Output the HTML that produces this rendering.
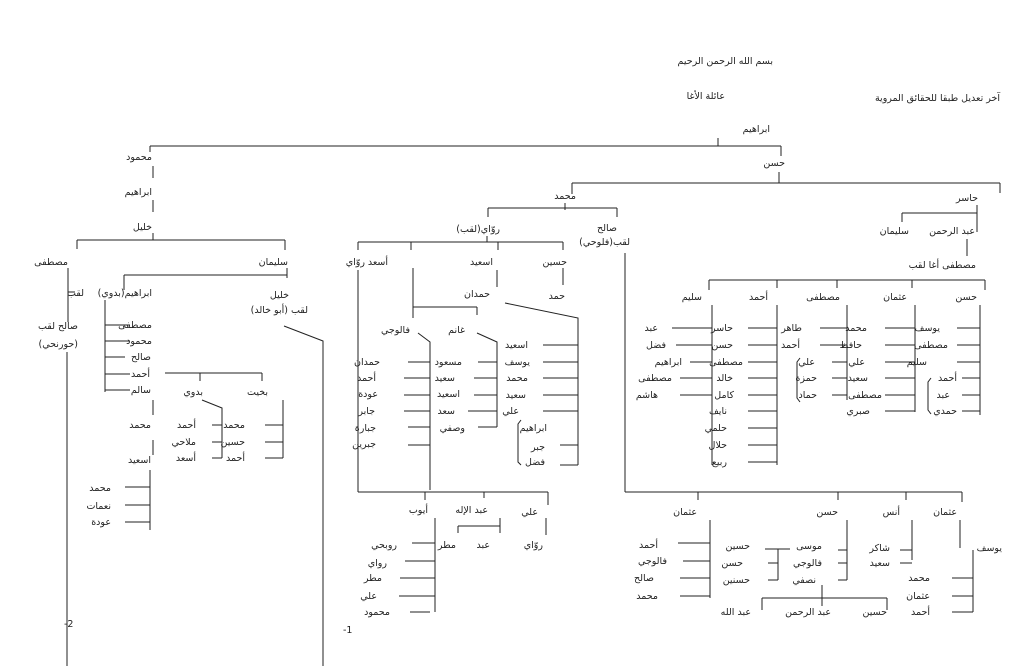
<!DOCTYPE html>
<html><head><meta charset="utf-8"><style>
html,body{margin:0;padding:0;background:#fff}
svg{display:block}
text{font-family:"DejaVu Sans","Noto Sans CJK SC",sans-serif;font-size:9.5px;fill:#222;text-anchor:end}
path{stroke:#222;stroke-width:1;fill:none}
</style></head><body>
<svg width="1036" height="666" viewBox="0 0 1036 666" xmlns="http://www.w3.org/2000/svg">
<!-- headings -->
<text x="773" y="64">بسم الله الرحمن الرحيم</text>
<text x="1000" y="101">آخر تعديل طبقا للحقائق المروية</text>
<text x="725" y="99">عائلة الأغا</text>
<text x="770" y="132">ابراهيم</text>

<path d="M150 146H781 M718 146V138 M781 146V156 M150 146V152"/>
<text x="785" y="166">حسن</text>
<path d="M779 172V183 M572 183H1000 M572 183V194 M1000 183V193"/>
<text x="576" y="199">محمد</text>
<text x="978" y="201">حاسر</text>
<path d="M977 205V232 M902 213H977 M902 213V222"/>
<text x="975" y="234">عبد الرحمن</text>
<text x="909" y="234">سليمان</text>
<path d="M967 239V256"/>
<text x="976" y="268">مصطفى أغا لقب</text>
<path d="M709 280H985 M709 280V290 M777 280V288 M837 280V288 M912 280V288 M985 280V290"/>
<text x="702" y="300">سليم</text>
<text x="768" y="300">أحمد</text>
<text x="840" y="300">مصطفى</text>
<text x="907" y="300">عثمان</text>
<text x="977" y="300">حسن</text>
<path d="M712 305V465 M777 305V465 M847 305V400 M915 305V412 M980 305V415"/>
<path d="M672 328H712 M676 345H712 M690 362H712 M680 378H712 M680 395H712"/>
<path d="M748 328H777 M748 345H777 M748 362H777 M748 378H777 M748 395H777 M748 411H777 M748 428H777 M748 445H777 M748 462H777"/>
<path d="M820 328H847 M820 345H847 M832 362H847 M832 378H847 M832 395H847"/>
<path d="M885 328H915 M885 345H915 M885 362H915 M885 378H915 M885 395H915 M885 411H915"/>
<path d="M957 328H980 M957 345H980 M957 362H980 M962 378H980 M962 395H980 M962 411H980"/>
<path d="M800 358 L797 362 V398 L800 402 M931 378 L928 382 V410 L931 414"/>
<text x="658" y="331">عبد</text><text x="666" y="348">فضل</text><text x="682" y="365">ابراهيم</text><text x="672" y="381">مصطفى</text><text x="658" y="398">هاشم</text>
<text x="733" y="331">حاسر</text><text x="733" y="348">حسن</text><text x="743" y="365">مصطفى</text><text x="733" y="381">خالد</text><text x="734" y="398">كامل</text><text x="727" y="414">نايف</text><text x="727" y="431">حلمي</text><text x="727" y="448">حلال</text><text x="727" y="465">ربيع</text>
<text x="802" y="331">طاهر</text><text x="800" y="348">أحمد</text>
<text x="815" y="365">علي</text><text x="817" y="381">حمزة</text><text x="817" y="398">حماد</text>
<text x="867" y="331">محمد</text><text x="862" y="348">حافظ</text><text x="865" y="365">علي</text><text x="868" y="381">سعيد</text><text x="882" y="398">مصطفى</text><text x="870" y="414">صبري</text>
<text x="940" y="331">يوسف</text><text x="948" y="348">مصطفى</text><text x="927" y="365">سليم</text><text x="957" y="381">أحمد</text><text x="950" y="398">عبد</text><text x="957" y="414">حمدي</text>

<!-- left branch -->
<text x="152" y="160">محمود</text>
<path d="M153 166V178 M153 200V212"/>
<text x="152" y="195">ابراهيم</text>
<text x="152" y="230">خليل</text>
<path d="M77 240H285 M77 240V249 M153 240V233 M285 240V250"/>
<text x="68" y="265">مصطفى</text>
<text x="288" y="265">سليمان</text>
<path d="M68 268V322 M68 292H75"/>
<text x="84" y="296">لقب</text>
<text x="78" y="329">صالح لقب</text>
<text x="78" y="347">(حورنحي)</text>
<path d="M67 352V666"/>
<text x="64" y="627" style="text-anchor:start">-2</text>
<path d="M287 268V278 M124 275H287 M124 275V290"/>
<text x="152" y="296">ابراهيم(بدوي)</text>
<text x="289" y="298">خليل</text>
<text x="308" y="313">لقب (أبو خالد)</text>
<path d="M284 326L323 341V666"/>
<path d="M105 300V392 M105 325H130 M105 341H130 M105 357H125 M105 374H130 M105 390H130"/>
<text x="152" y="328">مصطفى</text><text x="152" y="344">محمود</text><text x="151" y="360">صالح</text><text x="150" y="377">أحمد</text><text x="151" y="393">سالم</text>
<path d="M153 400V415 M153 440V455 M150 470V530 M125 487H150 M125 505H150 M125 522H150"/>
<text x="151" y="428">محمد</text><text x="151" y="463">اسعيد</text>
<text x="111" y="491">محمد</text><text x="111" y="509">نعمات</text><text x="111" y="525">عودة</text>
<path d="M165 373H262 M200 373V381 M262 373V381"/>
<text x="203" y="395">بدوي</text><text x="268" y="395">بخيت</text>
<path d="M202 400L222 408V458 M212 425H222 M212 442H222 M212 458H222 M283 400V458 M265 425H283 M265 442H283 M265 458H283"/>
<text x="196" y="428">أحمد</text><text x="196" y="445">ملاحي</text><text x="196" y="461">أسعد</text>
<text x="245" y="428">محمد</text><text x="245" y="445">حسين</text><text x="245" y="461">أحمد</text>

<!-- middle -->
<path d="M565 203V210 M488 208H617 M488 208V217 M617 208V217"/>
<text x="500" y="232">روّاي(لقب)</text>
<text x="617" y="231">صالح</text>
<text x="630" y="245">لقب(فلوحي)</text>
<path d="M625 253V492 M625 492H962 M698 492V500 M838 492V500 M906 492V500 M962 492V502"/>
<path d="M487 236V242 M358 242H563 M358 242V250 M411 242V250 M498 242V250 M563 242V250"/>
<text x="365" y="265">روّاي</text><text x="388" y="265">أسعد</text><text x="493" y="265">اسعيد</text><text x="567" y="265">حسين</text>
<path d="M497 270V287 M563 268V285"/>
<text x="490" y="297">حمدان</text><text x="565" y="299">حمد</text>
<path d="M413 268V318 M413 307H477 M477 307V315"/>
<text x="410" y="333">فالوجي</text><text x="465" y="333">غانم</text>
<path d="M418 333L430 342V490 M408 362H430 M404 378H430 M404 395H430 M404 411H430 M408 427H430 M408 445H430"/>
<text x="380" y="365">حمدان</text><text x="376" y="381">أحمد</text><text x="378" y="397">عودة</text><text x="375" y="414">جابر</text><text x="376" y="431">جبارة</text><text x="376" y="447">جبرين</text>
<text x="462" y="365">مسعود</text><text x="455" y="381">سعيد</text><text x="460" y="397">اسعيد</text><text x="455" y="414">سعد</text><text x="465" y="431">وصفي</text>
<path d="M477 333L497 342V427 M478 362H497 M474 378H497 M474 395H497 M468 411H497 M478 427H497"/>
<text x="528" y="348">اسعيد</text><text x="530" y="365">يوسف</text><text x="528" y="381">محمد</text><text x="526" y="398">سعيد</text><text x="519" y="414">علي</text>
<path d="M505 303L578 318V465 M543 345H578 M543 362H578 M543 378H578 M543 395H578 M543 411H578 M560 445H578 M560 465H578"/>
<path d="M521 420L518 424V462L521 465"/>
<text x="547" y="431">ابراهيم</text><text x="545" y="450">جبر</text><text x="545" y="465">فضل</text>
<path d="M358 270V492 M358 492H548 M425 492V500 M484 492V498 M548 492V505"/>
<text x="428" y="513">أيوب</text><text x="488" y="513">عبد الإله</text><text x="538" y="515">علي</text>
<path d="M546 518V535 M458 526H500 M458 526V533 M500 518V533"/>
<text x="543" y="548">روّاي</text><text x="490" y="548">عبد</text><text x="456" y="548">مطر</text>
<path d="M435 518V612 M412 543H435 M405 561H435 M400 578H435 M399 596H435 M410 612H430"/>
<text x="397" y="548">روبحي</text><text x="387" y="566">رواي</text><text x="382" y="581">مطر</text><text x="377" y="599">علي</text><text x="390" y="615">محمود</text>
<text x="343" y="633" style="text-anchor:start">-1</text>

<!-- bottom right -->
<text x="697" y="515">عثمان</text><text x="838" y="515">حسن</text><text x="900" y="515">أنس</text><text x="957" y="515">عثمان</text>
<path d="M710 520V598 M678 543H710 M683 561H710 M680 578H710 M680 596H710"/>
<text x="658" y="548">أحمد</text><text x="667" y="564">فالوجي</text><text x="654" y="581">صالح</text><text x="658" y="599">محمد</text>
<path d="M847 520V580 M838 550H847 M838 563H847 M838 580H847"/>
<text x="822" y="549">موسى</text><text x="822" y="566">فالوجي</text><text x="816" y="583">نصفي</text>
<path d="M765 549H790 M778 549V580 M768 563H778 M768 580H778"/>
<text x="750" y="549">حسين</text><text x="743" y="566">حسن</text><text x="750" y="583">حسنين</text>
<path d="M822 585V598 M762 598H887 M762 598V610 M822 598V606 M887 598V610"/>
<text x="751" y="615">عبد الله</text><text x="831" y="615">عبد الرحمن</text><text x="887" y="615">حسين</text>
<path d="M912 520V560 M900 550H912 M900 563H912"/>
<text x="890" y="551">شاكر</text><text x="890" y="566">سعيد</text>
<path d="M960 520V548 M973 550V612 M952 578H973 M952 596H973 M952 612H973"/>
<text x="1002" y="551">يوسف</text>
<text x="930" y="581">محمد</text><text x="930" y="599">عثمان</text><text x="930" y="615">أحمد</text>
</svg>
</body></html>
